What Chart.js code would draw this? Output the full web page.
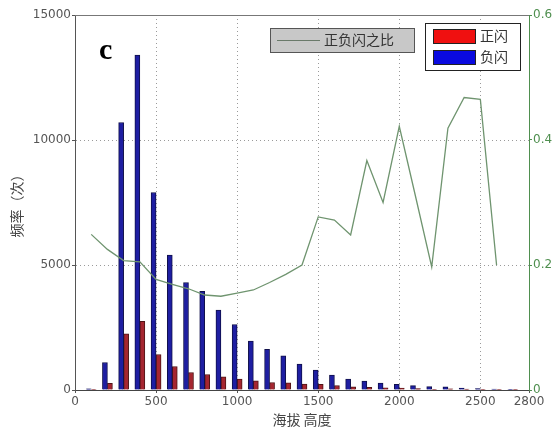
<!DOCTYPE html>
<html>
<head>
<meta charset="utf-8">
<script src="https://cdn.jsdelivr.net/npm/chart.js@4.4.1/dist/chart.umd.min.js"></script>
<style>
  html, body { margin: 0; padding: 0; background: #fff; }
  #wrap { width: 552px; height: 433px; }
</style>
</head>
<body>
<div id="wrap"><canvas id="chart" width="552" height="433"></canvas></div>
<script>
// 海拔高度（每 100 m 一组）
var elevations = [100, 200, 300, 400, 500, 600, 700, 800, 900, 1000, 1100, 1200, 1300, 1400,
                  1500, 1600, 1700, 1800, 1900, 2000, 2100, 2200, 2300, 2400, 2500, 2600, 2700];
// 负闪频次
var negCounts = [50, 1100, 10700, 13400, 7900, 5400, 4300, 3950, 3200, 2620, 1960, 1630, 1370, 1040,
                 800, 600, 440, 360, 280, 230, 175, 135, 130, 80, 60, 40, 30];
// 正闪频次
var posCounts = [10, 270, 2250, 2750, 1420, 940, 700, 620, 530, 440, 370, 300, 290, 240,
                 225, 180, 130, 110, 90, 80, 55, 30, 50, 35, 25, 10, 5];
// 正负闪之比
var ratioElev = [100, 200, 300, 400, 500, 600, 700, 800, 900, 1000, 1100, 1200, 1300, 1400,
                 1500, 1600, 1700, 1800, 1900, 2000, 2100, 2200, 2300, 2400, 2500, 2600];
var ratioValues = [0.249, 0.225, 0.207, 0.205, 0.177, 0.169, 0.162, 0.152, 0.150, 0.155, 0.160, 0.172, 0.185, 0.200,
                   0.277, 0.272, 0.248, 0.367, 0.300, 0.422, 0.310, 0.197, 0.419, 0.468, 0.465, 0.200];

var xTicks = [0, 500, 1000, 1500, 2000, 2500, 2800];
var yTicks = [0, 5000, 10000, 15000];
var y1Ticks = [0, 0.2, 0.4, 0.6];

function pts(xs, ys) {
    return xs.map(function(x, i) { return { x: x, y: ys[i] }; });
}
function fixTicks(list) {
    return function(scale) {
        scale.ticks = list.map(function(v) { return { value: v }; });
    };
}
// dotted grid only inside, not on the frame
function innerGrid(list) {
    return function(c) {
        var v = c.tick ? c.tick.value : null;
        return (v === list[0] || v === list[list.length - 1]) ? 'rgba(0,0,0,0)' : '#9a9a9a';
    };
}
function plain(v) { return String(v); }

var tickFont = { family: '"DejaVu Sans"', size: 12 };
var cjk = '"Noto Sans CJK SC"';

// 图例、面板字母和上边框
var extras = {
    id: 'extras',
    afterDraw: function(chart) {
        var ctx = chart.ctx, a = chart.chartArea;
        var ds = chart.data.datasets;
        ctx.save();
        ctx.strokeStyle = '#777';
        ctx.lineWidth = 1;
        ctx.beginPath();
        ctx.moveTo(a.left, a.top + 0.5);
        ctx.lineTo(a.right, a.top + 0.5);
        ctx.stroke();

        ctx.fillStyle = '#000';
        ctx.font = 'bold 30px "Liberation Serif"';
        ctx.textBaseline = 'alphabetic';
        ctx.fillText('c', 99, 59);

        // 线图例
        ctx.fillStyle = '#c8c8c8';
        ctx.fillRect(270, 28, 144, 24);
        ctx.strokeStyle = '#555';
        ctx.strokeRect(270.5, 28.5, 144, 24);
        ctx.strokeStyle = '#6a7a6a';
        ctx.beginPath();
        ctx.moveTo(277, 40.5);
        ctx.lineTo(320, 40.5);
        ctx.stroke();
        ctx.fillStyle = '#333';
        ctx.font = '14px ' + cjk;
        ctx.textBaseline = 'middle';
        ctx.fillText(ds[2].label, 324, 40);

        // 柱图例
        ctx.fillStyle = '#fff';
        ctx.fillRect(425, 23, 95, 47);
        ctx.strokeStyle = '#222';
        ctx.strokeRect(425.5, 23.5, 95, 47);
        ctx.fillStyle = '#f01010';
        ctx.fillRect(433, 29, 42, 14);
        ctx.strokeRect(433.5, 29.5, 42, 14);
        ctx.fillStyle = '#0a0ae0';
        ctx.fillRect(433, 50, 42, 14);
        ctx.strokeRect(433.5, 50.5, 42, 14);
        ctx.fillStyle = '#333';
        ctx.fillText(ds[1].label, 480, 36);
        ctx.fillText(ds[0].label, 480, 57);
        ctx.restore();
    }
};

var ctx = document.getElementById('chart').getContext('2d');
var chart = new Chart(ctx, {
    type: 'bar',
    data: {
        datasets: [
            {
                label: '负闪',
                data: pts(elevations, negCounts),
                backgroundColor: '#1e1ea2',
                borderColor: '#10104a',
                borderWidth: 1,
                barThickness: 5,
                yAxisID: 'y',
                order: 1
            },
            {
                label: '正闪',
                data: pts(elevations, posCounts),
                backgroundColor: '#a52630',
                borderColor: '#501515',
                borderWidth: 1,
                barThickness: 5,
                yAxisID: 'y',
                order: 1
            },
            {
                type: 'line',
                label: '正负闪之比',
                data: pts(ratioElev, ratioValues),
                borderColor: '#6f946f',
                borderWidth: 1.3,
                pointRadius: 0,
                tension: 0,
                fill: false,
                yAxisID: 'y1',
                order: 0
            }
        ]
    },
    options: {
        responsive: false,
        animation: false,
        events: [],
        layout: { padding: { top: 15, left: 0, right: 0, bottom: 0 } },
        plugins: {
            legend: { display: false },
            tooltip: { enabled: false }
        },
        scales: {
            x: {
                type: 'linear',
                min: 0,
                max: 2800,
                offset: false,
                afterBuildTicks: fixTicks(xTicks),
                afterFit: function(s) { s.height = 43; },
                ticks: { color: '#555', font: tickFont, padding: 2, maxRotation: 0, autoSkip: false, callback: plain },
                grid: { offset: false, color: innerGrid(xTicks), tickLength: 3, tickColor: '#555' },
                border: { display: true, color: '#444', dash: [1, 3] },
                title: {
                    display: true,
                    text: '海拔 高度',
                    color: '#444',
                    font: { family: cjk, size: 14 },
                    padding: { top: 0, bottom: 5 }
                }
            },
            y: {
                position: 'left',
                min: 0,
                max: 15000,
                afterBuildTicks: fixTicks(yTicks),
                afterFit: function(s) { s.width = 75; },
                ticks: { color: '#555', font: tickFont, padding: 1, callback: plain },
                grid: { color: innerGrid(yTicks), tickLength: 3, tickColor: '#555' },
                border: { display: true, color: '#555', dash: [1, 3] },
                title: {
                    display: true,
                    text: '频率（次）',
                    color: '#444',
                    font: { family: cjk, size: 14 },
                    padding: { top: 8, bottom: 0 }
                }
            },
            y1: {
                position: 'right',
                min: 0,
                max: 0.6,
                afterBuildTicks: fixTicks(y1Ticks),
                afterFit: function(s) { s.width = 23; },
                ticks: { color: '#4f8f4f', font: tickFont, padding: 1 },
                grid: { drawOnChartArea: false, tickLength: 3, tickColor: '#4f8f4f' },
                border: { display: true, color: '#4f8f4f' }
            }
        }
    },
    plugins: [extras]
});
</script>
</body>
</html>
